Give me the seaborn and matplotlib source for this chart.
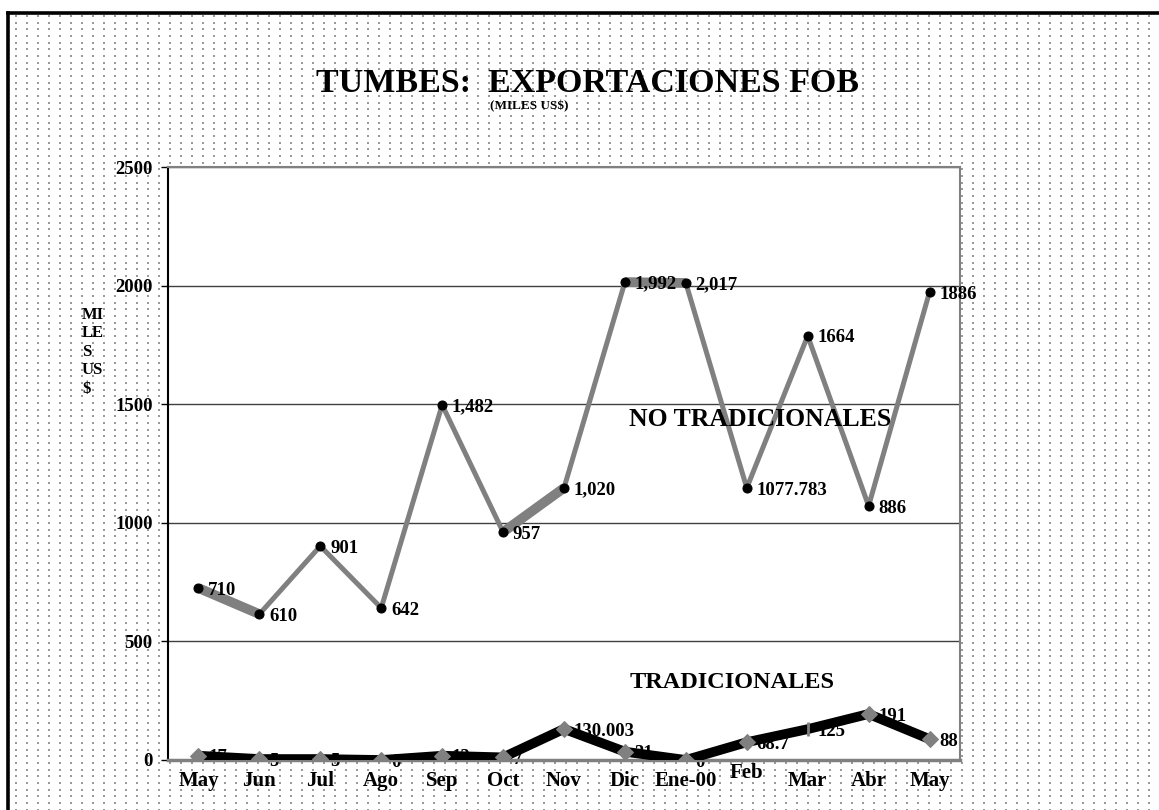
import numpy as np
import matplotlib
matplotlib.use("Agg")
import matplotlib.pyplot as plt
import matplotlib.transforms as mtransforms
import seaborn as sns

# data (plotted positions differ from the typed labels in the original)
months = ["May", "Jun", "Jul", "Ago", "Sep", "Oct", "Nov", "Dic", "Ene-00", "Feb", "Mar", "Abr", "May"]
no_trad = [725, 615, 902, 641, 1497, 961, 1147, 2015, 2011, 1147, 1788, 1071, 1973]
no_trad_labels = ["710", "610", "901", "642", "1,482", "957", "1,020", "1,992", "2,017",
                  "1077.783", "1664", "886", "1886"]
trad = [18, 4, 4, 0, 18, 11, 131, 35, 0, 75, 130, 194, 88]
trad_labels = ["17", "5", "5", "0", "13", "7", "130.003", "31", "0", "68.7", "125", "191", "88"]
yticks = [0, 500, 1000, 1500, 2000, 2500]

W, H = 1159, 810
GREY = "#808080"

sns.set_style("white")
plt.rcParams["font.family"] = ["Liberation Serif", "DejaVu Serif"]
plt.rcParams["font.weight"] = "bold"
plt.rcParams["text.color"] = "black"
plt.rcParams["xtick.color"] = "black"
plt.rcParams["ytick.color"] = "black"

fig = plt.figure(figsize=(W / 100, H / 100), dpi=100)
fig.patch.set_facecolor("white")

def fx(px):
    return px / W

def fy(py):
    return 1 - py / H

# dotted chart-area pattern + outer frame
bg = fig.add_axes([0, 0, 1, 1], zorder=0)
bg.set_xlim(0, W)
bg.set_ylim(H, 0)
bg.axis("off")
gx, gy = np.meshgrid(np.arange(16, W, 11), np.arange(16, H, 6.67))
bg.scatter(gx.ravel(), gy.ravel(), marker="s", s=1.0, color="#9a9a9a", linewidths=0)
bg.plot([8, 8], [H + 5, 13], color="black", lw=2.6, solid_capstyle="projecting")
bg.plot([8, W + 5], [13, 13], color="black", lw=2.6, solid_capstyle="projecting")

# plot area
ax = fig.add_axes([fx(168), fy(760), fx(960) - fx(168), fy(167) - fy(760)], zorder=1)
ax.set_facecolor("white")
idx = np.arange(len(months))

# thicker segments of the grey line
for a, b in [(0, 1), (5, 6), (7, 8)]:
    ax.plot(idx[a:b + 1], no_trad[a:b + 1], color=GREY, lw=7, solid_capstyle="butt", zorder=3)

sns.lineplot(x=idx, y=no_trad, ax=ax, color=GREY, lw=3.6, marker="o", markersize=6.5,
             markerfacecolor="black", markeredgecolor="black", zorder=4)

sns.lineplot(x=idx, y=trad, ax=ax, color="black", lw=7, marker="D", markersize=8.5,
             markerfacecolor=GREY, markeredgecolor=GREY, zorder=4,
             markevery=[i for i in idx if i != 10])
ax.plot(idx[10], trad[10], marker="|", color=GREY, markersize=10, mew=2, zorder=5)

for i, (v, lab) in enumerate(zip(no_trad, no_trad_labels)):
    ax.annotate(lab, (i, v), xytext=(7, -1.5), textcoords="offset points", ha="left", va="center",
                fontsize=13.5, fontweight="bold", zorder=6, annotation_clip=False)
for i, (v, lab) in enumerate(zip(trad, trad_labels)):
    ax.annotate(lab, (i, v), xytext=(7, -1.5), textcoords="offset points", ha="left", va="center",
                fontsize=13.5, fontweight="bold", zorder=2, annotation_clip=False)

ax.set_xlim(-0.5, len(months) - 0.5)
ax.set_ylim(0, 2500)
ax.set_yticks(yticks)
ax.set_xticks(idx)
ax.set_xticklabels(months)
ax.set_xticks(np.arange(-0.5, len(months), 1), minor=True)
ax.tick_params(axis="x", which="major", length=0, pad=8, labelsize=15)
ax.tick_params(axis="x", which="minor", length=4, width=1, color="black", direction="out")
ax.tick_params(axis="y", length=5, width=1, color="black", pad=6, labelsize=13.5, left=True)
for t in ax.get_yticklabels() + ax.get_xticklabels():
    t.set_fontweight("bold")
feb = ax.get_xticklabels()[9]
feb.set_transform(feb.get_transform() + mtransforms.ScaledTranslation(0, 8 / 100, fig.dpi_scale_trans))

ax.yaxis.grid(True, color="#404040", lw=1)
ax.set_axisbelow(True)
ax.spines["left"].set_color("black")
ax.spines["left"].set_linewidth(1.5)
ax.spines["bottom"].set_color(GREY)
ax.spines["bottom"].set_linewidth(2.5)
for s in ["top", "right"]:
    ax.spines[s].set_color(GREY)
    ax.spines[s].set_linewidth(1.5)
ax.set_xlabel("")
ax.set_ylabel("")

# titles and annotations
fig.text(fx(587), fy(83), "TUMBES:  EXPORTACIONES FOB", ha="center", va="center",
         fontsize=24.5, fontweight="bold", zorder=3)
fig.text(fx(529), fy(106), "(MILES US$)", ha="center", va="center",
         fontsize=9.5, fontweight="bold", zorder=3)
fig.text(fx(82), fy(307), "MI\nLE\nS\nUS\n$", ha="left", va="top", fontsize=12,
         fontweight="bold", linespacing=1.2, zorder=3)
fig.text(fx(760), fy(420), "NO TRADICIONALES", ha="center", va="center",
         fontsize=18.5, fontweight="bold", zorder=3)
fig.text(fx(732), fy(683), "TRADICIONALES", ha="center", va="center",
         fontsize=17.5, fontweight="bold", zorder=3)

fig.savefig("out.png", dpi=100)
